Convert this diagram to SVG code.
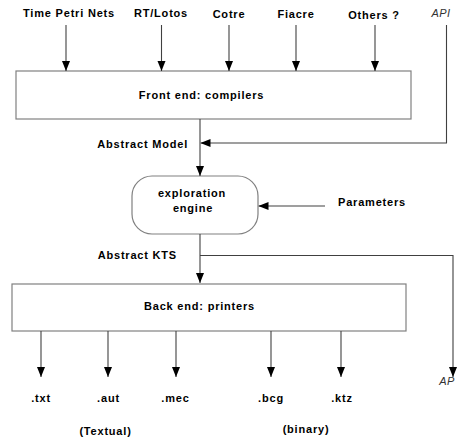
<svg xmlns="http://www.w3.org/2000/svg" width="457" height="440" viewBox="0 0 457 440">
<style>
text{font-family:"Liberation Sans",Arial,sans-serif;font-size:11px;fill:#000}
.b{font-weight:bold;letter-spacing:0.8px}
.i{font-style:italic;fill:#333;letter-spacing:0.5px}
.box{fill:#fff;stroke:#808080;stroke-width:1.2}
.c{fill:none;stroke:#404040;stroke-width:1.1}
.a{marker-end:url(#ah)}
</style>
<defs>
<marker id="ah" markerUnits="userSpaceOnUse" markerWidth="10" markerHeight="10" viewBox="0 0 10 8" refX="10" refY="4" orient="auto">
<path d="M0,0 L10,4 L0,8 Z" fill="#000"/>
</marker>
</defs>
<rect width="457" height="440" fill="#fff"/>
<g id="inputs">
<text class="b" x="69" y="17" text-anchor="middle">Time Petri Nets</text>
<text class="b" x="161" y="17" text-anchor="middle">RT/Lotos</text>
<text class="b" x="229" y="18" text-anchor="middle">Cotre</text>
<text class="b" x="296" y="18" text-anchor="middle">Fiacre</text>
<text class="b" x="374" y="18.5" text-anchor="middle">Others ?</text>
<text class="i" x="441" y="17" text-anchor="middle">API</text>
</g>
<g id="frontend">
<rect class="box" x="16" y="71" width="395" height="48"/>
<text class="b" x="201.5" y="99" text-anchor="middle">Front end: compilers</text>
</g>
<g id="engine">
<rect class="box" x="132" y="176" width="126" height="58" rx="20" ry="20"/>
<text class="b" x="192" y="197" text-anchor="middle">exploration</text>
<text class="b" x="193" y="212" text-anchor="middle">engine</text>
</g>
<g id="parameters">
<text class="b" x="372" y="206" text-anchor="middle">Parameters</text>
</g>
<g id="backend">
<rect class="box" x="12" y="284" width="394" height="47"/>
<text class="b" x="199.5" y="310" text-anchor="middle">Back end: printers</text>
</g>
<g id="outputs">
<text class="b" x="41" y="402" text-anchor="middle">.txt</text>
<text class="b" x="108.5" y="402" text-anchor="middle">.aut</text>
<text class="b" x="175.5" y="402" text-anchor="middle">.mec</text>
<text class="b" x="271" y="402" text-anchor="middle">.bcg</text>
<text class="b" x="342" y="402" text-anchor="middle">.ktz</text>
<text class="i" x="447" y="385" text-anchor="middle">AP</text>
</g>
<g id="labels">
<text class="b" x="188" y="148" text-anchor="end">Abstract Model</text>
<text class="b" x="177" y="259" text-anchor="end">Abstract KTS</text>
<text class="b" x="105.5" y="435" text-anchor="middle">(Textual)</text>
<text class="b" x="306" y="433" text-anchor="middle">(binary)</text>
</g>
<g id="connectors">
<line class="c a" x1="66" y1="25" x2="66" y2="71"/>
<line class="c a" x1="161.5" y1="25" x2="161.5" y2="71"/>
<line class="c a" x1="229" y1="25" x2="229" y2="71"/>
<line class="c a" x1="296" y1="25" x2="296" y2="71"/>
<line class="c a" x1="375" y1="25" x2="375" y2="71"/>
<line class="c a" x1="200" y1="119" x2="200" y2="176"/>
<polyline class="c a" points="446.5,25 446.5,143 200.5,143"/>
<line class="c a" x1="325" y1="206" x2="258.5" y2="206"/>
<line class="c a" x1="200" y1="234" x2="200" y2="283"/>
<polyline class="c a" points="200,255.5 453,255.5 453,377"/>
<line class="c a" x1="41" y1="331" x2="41" y2="377"/>
<line class="c a" x1="108" y1="331" x2="108" y2="377"/>
<line class="c a" x1="176" y1="331" x2="176" y2="377"/>
<line class="c a" x1="271" y1="331" x2="271" y2="377"/>
<line class="c a" x1="341" y1="331" x2="341" y2="377"/>
</g>
</svg>
